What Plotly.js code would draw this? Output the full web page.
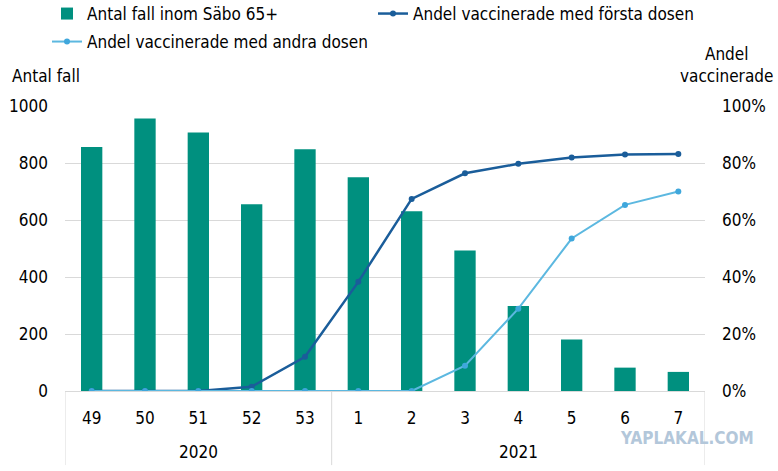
<!DOCTYPE html>
<html>
<head>
<meta charset="utf-8">
<script src="https://cdn.plot.ly/plotly-3.0.1.min.js"></script>
<style>html,body{margin:0;padding:0;background:#fff;}#chart{width:778px;height:471px;}</style>
</head>
<body>
<div id="chart"></div>
<script>
const years = ["2020","2020","2020","2020","2020","2021","2021","2021","2021","2021","2021","2021"];
const weeks = ["49","50","51","52","53","1","2","3","4","5","6","7"];
const cases = [856, 956, 907, 655, 848, 750, 631, 493, 298, 181, 82, 67];
const firstDose = [0, 0, 0, 0.015, 0.12, 0.383, 0.674, 0.764, 0.797, 0.819, 0.830, 0.832];
const secondDose = [0, 0, 0, 0, 0, 0, 0, 0.089, 0.289, 0.535, 0.653, 0.700];

const FONT = "DejaVu Sans Condensed, Liberation Sans Narrow, sans-serif";
const GRID = "#d9d9d9";

const data = [
  {type:"bar", name:"Antal fall inom Säbo 65+", x:weeks, y:cases,
   marker:{color:"#00907f"}, yaxis:"y", legend:"legend"},
  {type:"scatter", mode:"lines+markers", name:"Andel vaccinerade med första dosen", x:weeks, y:firstDose,
   line:{color:"#1a5d9a", width:2.5}, marker:{size:6, color:"#1a5d9a"}, yaxis:"y2", legend:"legend2"},
  {type:"scatter", mode:"lines+markers", name:"Andel vaccinerade med andra dosen", x:weeks, y:secondDose,
   line:{color:"#5cb8e0", width:2}, marker:{size:6, color:"#3fa7dc"}, yaxis:"y2", legend:"legend3"}
];

// year group labels and dividers derived from the years array
const annotations = [];
const shapes = [];
const groups = [];
years.forEach((y, i) => {
  if (!groups.length || groups[groups.length-1].year !== y) groups.push({year:y, start:i, end:i});
  else groups[groups.length-1].end = i;
});
groups.forEach((g, k) => {
  annotations.push({text:g.year, xref:"x", yref:"paper", x:(g.start+g.end)/2, y:-0.215,
    xanchor:"center", yanchor:"middle", showarrow:false, font:{family:FONT, size:17, color:"#000"}});
  shapes.push({type:"line", xref:"x", yref:"paper", x0:g.start-0.5, x1:g.start-0.5, y0:0, y1:-0.26,
    line:{color:GRID, width:1}});
  if (k === groups.length-1)
    shapes.push({type:"line", xref:"x", yref:"paper", x0:g.end+0.5, x1:g.end+0.5, y0:0, y1:-0.26,
      line:{color:GRID, width:1}});
});

annotations.push(
  {text:"Antal fall", xref:"paper", yref:"paper", x:-0.086, y:1.105, xanchor:"left", yanchor:"middle",
   showarrow:false, font:{family:FONT, size:17, color:"#000"}},
  {text:"Andel<br>vaccinerade", xref:"paper", yref:"paper", x:1.034, y:1.144, xanchor:"center", yanchor:"middle",
   showarrow:false, font:{family:FONT, size:17, color:"#000"}},
  {text:"<b>YAPLAKAL.COM</b>", xref:"paper", yref:"paper", x:1.08, y:-0.165, xanchor:"right", yanchor:"middle",
   showarrow:false, font:{family:FONT, size:17, color:"#b3c7da"}}
);

function leg(xpx, ypx) {
  return {orientation:"h", xref:"container", yref:"container", x:xpx/778, y:1-ypx/471,
          xanchor:"left", yanchor:"middle", bgcolor:"rgba(0,0,0,0)", itemwidth:30,
          font:{family:FONT, size:17, color:"#000"}};
}

const layout = {
  width:778, height:471,
  margin:{l:65, r:73, t:106, b:80},
  paper_bgcolor:"#fff", plot_bgcolor:"#fff",
  font:{family:FONT, size:17, color:"#000"},
  bargap:0.6,
  showlegend:true,
  legend:leg(47, 14),
  legend2:leg(373, 14),
  legend3:leg(47, 42),
  xaxis:{type:"category", range:[-0.5, weeks.length-0.5], showgrid:false, showline:true, linecolor:GRID, ticks:"",
         automargin:false, ticklabelstandoff:12,
         tickfont:{family:FONT, size:17, color:"#000"}},
  yaxis:{range:[0,1000], dtick:200, showgrid:true, gridcolor:GRID, zeroline:false,
         showline:false, ticks:"", automargin:false, ticklabelstandoff:16,
         tickfont:{family:FONT, size:17, color:"#000"}},
  yaxis2:{range:[0,1], dtick:0.2, tickformat:".0%", overlaying:"y", side:"right",
          showgrid:false, zeroline:false, showline:false, ticks:"", automargin:false, ticklabelstandoff:16,
          tickfont:{family:FONT, size:17, color:"#000"}},
  annotations:annotations,
  shapes:shapes
};

Plotly.newPlot("chart", data, layout, {displayModeBar:false, staticPlot:true});
</script>
</body>
</html>
